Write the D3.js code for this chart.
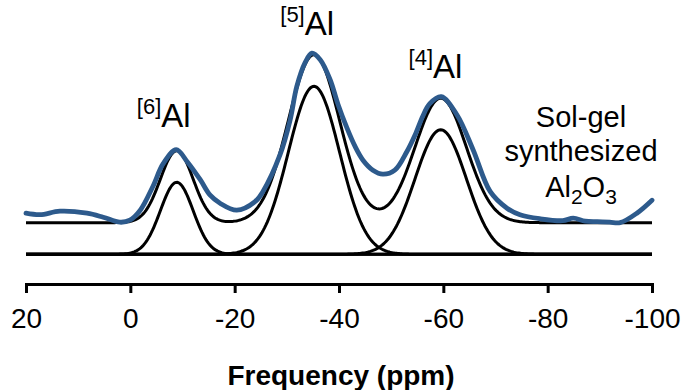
<!DOCTYPE html>
<html>
<head>
<meta charset="utf-8">
<script src="https://cdn.jsdelivr.net/npm/d3@7"></script>
<style>
  html, body { margin: 0; padding: 0; background: #fff; }
  svg { display: block; font-family: "Liberation Sans", Arial, sans-serif; }
</style>
</head>
<body>
<div id="chart"></div>
<script>
// Measured 27Al spectrum (ppm, intensity above its own baseline, a.u.)
const spectrumPpm = [20, 17.3, 13.5, 8.3, 5.2, 2.0, 0.1, -1.9, -4.3, -6.3, -8.8, -10.9, -13.4, -15.3,
  -17.2, -20.4, -23.9, -25.4, -28.7, -30.6, -31.9, -33.5, -34.8, -36.4, -38.3, -39.8, -41.5, -43.1,
  -44.6, -46.5, -48.4, -50.7, -53.0, -54.6, -56.1, -57.4, -59.6, -62.6, -65.7, -69.0, -72.2, -74.7,
  -78.5, -82.9, -84.9, -87.2, -89.5, -91.9, -93.9, -97.1, -100];
const spectrumInt = [9.5, 8, 11.5, 9.5, 5.5, 0.5, 2.5, 12.5, 36, 59, 73, 61, 43, 27.5,
  19.5, 12.5, 21, 31, 68, 102, 136, 160, 169.5, 163, 143, 118.5, 95, 76,
  62.5, 52.5, 48.5, 52.5, 71, 88, 107, 119, 126, 108, 73, 31, 14.5, 8,
  4, 2, 4.5, 1.5, 1, 0.5, 0, 9.5, 22.5];

// Fitted components: centre (ppm), height (a.u.), FWHM (ppm)
const peakNames = ["6", "5", "4"];
const peakCentres = [-8.9, -35.2, -59.5];
const peakHeights = [72, 168, 124.5];
const peakFwhm = [7.4, 11.6, 11.6];

// annotation anchor points (ppm, a.u. above lower baseline)
const labelPpm = [-6.4, -33.9, -58.5];
const labelInt = [127.5, 219.3, 176];

const xTicks = [20, 0, -20, -40, -60, -80, -100];
const xTickLabels = ["20", "0", "-20", "-40", "-60", "-80", "-100"];

const width = 684, height = 390;
const stackOffset = 31.6;   // fit + spectrum sit above the component baseline
const blue = "#2D5A8C";

const x = d3.scaleLinear().domain([20, -100]).range([26, 652]);
const y = d3.scaleLinear().domain([0, 200]).range([254.3, 54.3]);

const svg = d3.select("#chart").append("svg")
  .attr("width", width)
  .attr("height", height);

// component lineshapes evaluated on a ppm grid
const grid = d3.range(20, -100.001, -0.25);
const gauss = (p, i) => {
  const s = peakFwhm[i] / 2.3548;
  return peakHeights[i] * Math.exp(-((p - peakCentres[i]) ** 2) / (2 * s * s));
};

const line = d3.line().x(d => x(d[0])).y(d => y(d[1]));

// lower baseline
svg.append("path")
  .attr("d", line([[20, 0], [-100, 0]]))
  .attr("stroke", "#000").attr("stroke-width", 3).attr("fill", "none");

// components
peakCentres.forEach((c, i) => {
  svg.append("path")
    .attr("d", line(grid.map(p => [p, gauss(p, i)])))
    .attr("stroke", "#000").attr("stroke-width", 3).attr("fill", "none");
});

// fit envelope
svg.append("path")
  .attr("d", line(grid.map(p => [p, stackOffset + d3.sum(peakCentres, (c, i) => gauss(p, i))])))
  .attr("stroke", "#000").attr("stroke-width", 3).attr("fill", "none");

// experimental spectrum
svg.append("path")
  .attr("d", d3.line().curve(d3.curveCatmullRom.alpha(0.5))
    .x((d, i) => x(spectrumPpm[i]))
    .y(d => y(d + stackOffset))(spectrumInt))
  .attr("stroke", blue).attr("stroke-width", 4.8).attr("fill", "none")
  .attr("stroke-linejoin", "round").attr("stroke-linecap", "round");

// x axis
const axis = svg.append("g")
  .attr("transform", "translate(0,284)")
  .call(d3.axisBottom(x)
    .tickValues(xTicks)
    .tickFormat((d, i) => xTickLabels[i])
    .tickSize(9)
    .tickSizeOuter(9)
    .tickPadding(15));
axis.select(".domain").attr("stroke", "#000").attr("stroke-width", 3);
axis.selectAll(".tick line").attr("stroke", "#000").attr("stroke-width", 3);
axis.selectAll(".tick text")
  .attr("fill", "#000")
  .style("font-family", "Liberation Sans, Arial, sans-serif")
  .style("font-size", "28px");

svg.append("text")
  .attr("x", 341)
  .attr("y", 385)
  .attr("text-anchor", "middle")
  .style("font-size", "28px")
  .style("font-weight", "bold")
  .text("Frequency (ppm)");

// site labels
peakNames.forEach((n, i) => {
  const t = svg.append("text")
    .attr("x", x(labelPpm[i]))
    .attr("y", y(labelInt[i]))
    .attr("text-anchor", "middle")
    .attr("fill", "#000");
  t.append("tspan").style("font-size", "22px").attr("dy", -13).text("[" + n + "]");
  t.append("tspan").style("font-size", "33px").attr("dy", 13).text("Al");
});

// sample label
const sample = svg.append("text")
  .attr("text-anchor", "middle")
  .style("font-size", "29px")
  .attr("fill", "#000");
sample.append("tspan").attr("x", 581).attr("y", 127).text("Sol-gel");
sample.append("tspan").attr("x", 581).attr("y", 161).text("synthesized");
const formula = sample.append("tspan").attr("x", 581).attr("y", 197);
formula.append("tspan").text("Al");
formula.append("tspan").attr("dy", 7).style("font-size", "21px").text("2");
formula.append("tspan").attr("dy", -7).text("O");
formula.append("tspan").attr("dy", 7).style("font-size", "21px").text("3");
</script>
</body>
</html>
